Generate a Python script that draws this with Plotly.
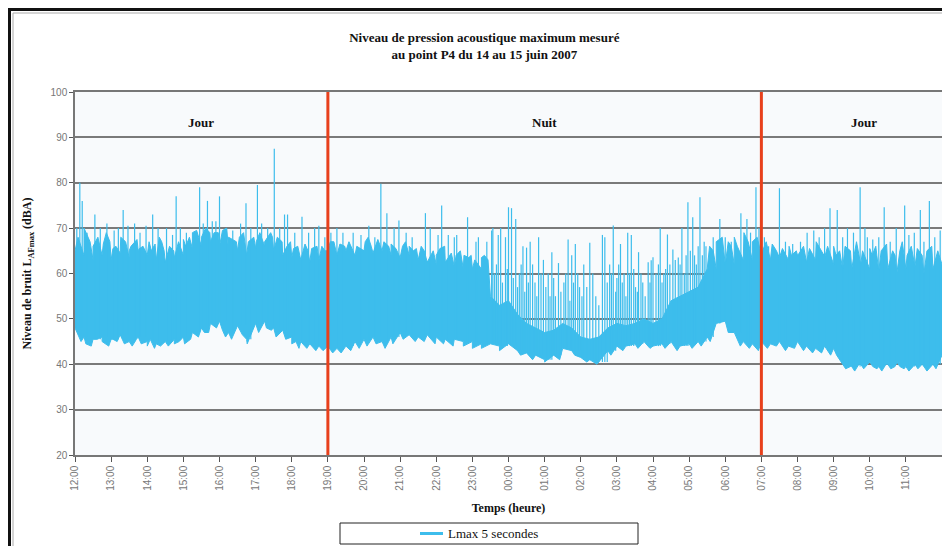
import pandas as pd
import plotly.graph_objects as go

# ---------------- data ----------------
start = "2007-06-14 12:00"
# 15-minute envelope of the Lmax 5 s signal, 12:00 (14 juin) -> 12:00 (15 juin)
band_low = [
    48, 46, 45.5, 46, 45.5, 46.5, 45, 46, 45, 44.5, 45, 45.5, 46, 47, 48, 49,
    49.5, 47, 48.5, 45.5, 49, 49.5, 48, 47.5, 46, 45, 44.5, 44,
    44, 43.5, 44, 45, 45.5, 46, 45, 46, 47, 46.5, 46, 46.5, 46, 45.5, 45.5, 45,
    45, 44.5, 44.5, 44, 44.5, 43, 42.5, 42, 41, 42, 43.5, 43, 41.5, 41, 40.5, 43,
    44, 44, 44.5, 45, 44, 44.5, 45, 44, 44.5, 45, 46, 49, 49.5, 47, 45, 44.5,
    45, 44.5, 45, 44, 45, 44, 43.5, 44, 43.5, 40, 39.5, 40, 40.5, 39.5, 40, 40.5,
    39.5, 40, 39.5, 40, 42,
]
band_high = [
    65, 64, 63, 64, 63, 64.5, 63.5, 65, 64, 63, 62.5, 63.5, 64, 65.5, 66, 67,
    66, 65, 65, 64, 65.5, 66, 65, 64, 63.5, 63, 62.5, 63,
    65, 64, 65, 64, 65, 64.5, 65, 64, 63.5, 64, 63, 62.5, 62, 62.5, 61.5, 61,
    61, 61, 55, 53, 54, 51, 49, 48, 47, 47.5, 49, 48, 46, 45.5, 46, 48,
    49, 48.5, 49, 50, 49, 50, 54, 55, 56, 57, 61, 61, 62, 62, 63, 63,
    64, 63, 63.5, 63, 64, 62.5, 63, 63.5, 62, 61, 61, 62, 61, 60.5, 61, 60,
    61, 61.5, 60, 61, 62,
]
# isolated peaks above the dense band
spike_times = [
    "12:03", "12:08", "12:12", "12:20", "12:33", "12:42", "12:53", "13:05", "13:12", "13:20",
    "13:28", "13:39", "13:48", "13:58", "14:09", "14:18", "14:32", "14:42", "14:48", "14:55",
    "15:05", "15:27", "15:33", "15:40", "15:48", "15:54", "16:00", "16:10", "16:22", "16:35",
    "16:44", "16:52", "17:03", "17:10", "17:20", "17:31", "17:40", "17:48", "17:53", "18:05",
    "18:17", "18:28", "18:38", "18:45", "18:55",
    "19:05", "19:15", "19:25", "19:42", "19:55", "20:08", "20:18", "20:28", "20:38", "20:50",
    "20:58", "21:10", "21:20", "21:42", "21:50", "22:03", "22:09", "22:20", "22:30", "22:34",
    "22:52", "23:06", "23:10", "23:24", "23:32", "23:34", "23:43", "23:47", "23:55", "00:00",
    "00:05", "00:12", "00:18", "00:24", "00:30", "00:36", "00:44", "00:50", "00:58", "01:06",
    "01:12", "01:18", "01:23", "01:32", "01:39", "01:45", "01:51", "01:58", "02:05", "02:15",
    "02:25", "02:36", "02:40", "02:48", "02:54", "03:00", "03:06", "03:12", "03:18", "03:24",
    "03:31", "03:36", "03:43", "03:52", "03:57", "04:00", "04:12", "04:18", "04:24", "04:33",
    "04:42", "04:48", "04:52", "04:58", "05:06", "05:12", "05:18", "05:28", "05:40", "05:51",
    "06:00", "06:10", "06:26", "06:36", "06:42", "06:51", "06:56",
    "07:05", "07:12", "07:30", "07:40", "07:52", "08:05", "08:16", "08:27", "08:36", "08:45",
    "08:54", "09:06", "09:15", "09:23", "09:33", "09:44", "09:52", "09:56", "10:05", "10:15",
    "10:24", "10:34", "10:44", "10:58", "11:05", "11:14", "11:24", "11:30", "11:39", "11:48",
    "11:57",
]
spike_peaks = [
    70, 80, 76, 69, 73, 70, 71, 69.5, 70, 74,
    70.5, 71, 69, 70.5, 73, 70, 70, 68.5, 77, 70,
    69, 79, 71, 76, 71.5, 71.5, 77, 70, 69.5, 71,
    75.5, 70, 79.5, 71, 70, 87.5, 70, 73, 73, 69,
    72.5, 69, 70, 70.5, 68,
    69, 70, 69, 69, 68.5, 70.5, 68, 79.8, 73.3, 70,
    71.7, 69, 68, 73.3, 70, 68.5, 75, 68.5, 68, 68.5,
    72.4, 67, 68, 67, 69.5, 70, 68.5, 70, 68, 74.6,
    74.4, 72, 60, 66, 65.7, 67, 58, 68, 63, 60,
    64.7, 55, 62.3, 58, 67.5, 64, 66.5, 57, 62, 66.8,
    55, 68.5, 68, 62, 70.6, 59, 66.5, 60, 69, 68.5,
    57, 64.7, 58, 62.5, 62.9, 63.6, 70, 60, 68.6, 65.3,
    63.5, 70, 60, 75.7, 72.4, 62, 76.8, 66, 68, 72,
    68, 67, 73.3, 72, 69, 79, 70,
    68, 66, 78.8, 67, 66.5, 67, 69, 69.5, 68, 70,
    74.4, 74, 68, 70, 69, 79, 70, 68, 67.5, 68,
    74.6, 67, 70, 75, 68.5, 69, 74, 67, 76, 68,
    69.5,
]
# smaller peaks that make the upper edge of the band ragged
minor_times = [
    "12:05", "12:15", "12:25", "12:30", "12:38", "12:47", "12:52", "12:58", "13:03", "13:08",
    "13:16", "13:24", "13:30", "13:33", "13:43", "13:47", "13:53", "14:03", "14:07", "14:13",
    "14:20", "14:24", "14:28", "14:37", "14:44", "14:52", "15:00", "15:04", "15:10", "15:15",
    "15:22", "15:30", "15:37", "15:44", "15:51", "15:58", "16:05", "16:12", "16:15", "16:28",
    "16:33", "16:40", "16:48", "16:57", "17:01", "17:07", "17:15", "17:25", "17:28", "17:36",
    "17:44", "17:52", "17:58", "18:03", "18:10", "18:22", "18:27", "18:33", "18:42", "18:50",
    "18:55",
    "19:04", "19:10", "19:20", "19:28", "19:35", "19:40", "19:48", "20:02", "20:07", "20:12",
    "20:23", "20:33", "20:41", "20:45", "20:53", "21:04", "21:09", "21:15", "21:22", "21:27",
    "21:35", "21:40", "21:55", "22:00", "22:06", "22:14", "22:25", "22:33", "22:40", "22:46",
    "22:54", "22:58", "23:04", "23:15", "23:20", "23:26",
    "23:37", "23:40", "23:50", "23:58", "00:08", "00:15", "00:21", "00:27", "00:33",
    "00:40", "00:47", "00:54", "01:02", "01:09", "01:15", "01:27", "01:35", "01:42", "01:48",
    "01:55", "02:02", "02:10", "02:20", "02:30", "02:44", "02:51", "02:58", "03:03", "03:09",
    "03:15", "03:21", "03:28", "03:34", "03:40", "03:47", "03:55", "04:05", "04:09", "04:15",
    "04:21", "04:28", "04:37", "04:45", "04:55", "05:02", "05:09", "05:15", "05:22", "05:25",
    "05:34", "05:40", "05:45", "05:55", "06:05", "06:10", "06:15", "06:20", "06:31", "06:38",
    "06:45", "06:53",
    "07:02", "07:08", "07:18", "07:25", "07:35", "07:46", "07:50", "07:58", "08:03", "08:10",
    "08:20", "08:31", "08:40", "08:44", "08:50", "09:00", "09:04", "09:10", "09:19", "09:28",
    "09:38", "09:48", "10:00", "10:04", "10:10", "10:19", "10:28", "10:38", "10:42", "10:50",
    "10:54", "11:02", "11:09", "11:19", "11:27", "11:35", "11:43", "11:53",
]
minor_peaks = [
    68, 70, 67, 66, 68, 66.5, 69, 67, 65.5, 66,
    68, 67, 65, 66, 67.5, 65.5, 66, 67, 65, 66.5,
    68, 67, 65, 66, 65, 67, 67.5, 66, 68, 69,
    69.5, 68, 70, 69, 69, 69, 69.5, 70, 68, 67,
    68, 69, 67, 68, 67, 69, 67, 69, 68, 68,
    67, 66, 67, 65.5, 66, 66.5, 65, 65.5, 66, 66,
    65,
    67, 67, 66.5, 66, 67, 65.5, 66, 67, 68, 66,
    67.5, 67, 66, 66.5, 65.5, 66, 67, 66, 65, 65.5,
    66, 65, 65, 64, 65.5, 66, 64.5, 64, 65, 64,
    63.5, 64, 63, 63.5, 64, 63,
    60, 62, 58, 61, 59, 57, 62, 56, 58,
    62, 55, 60, 57, 55, 59, 56, 60, 54, 58,
    60, 55, 57, 60, 53, 58, 60, 56, 62, 58,
    55, 60, 61, 56, 60, 55, 58, 60, 62, 58,
    61, 62, 63, 62, 64, 65, 64, 66, 64, 67,
    66, 65, 67, 68, 67, 66, 68, 66, 69, 67,
    67, 68,
    65, 67, 66.5, 65, 65.5, 66, 64, 65, 64.5, 66,
    65.5, 67, 65, 64, 66, 66, 64, 65, 66, 65,
    67, 65, 65.5, 64, 66, 65, 66.5, 65, 64, 65,
    67, 64, 66, 65.5, 64, 65, 66, 65,
]
# dips below the band
dip_times = [
    "12:10", "12:18", "12:27", "12:37", "12:45", "12:56", "13:03", "13:10", "13:22", "13:35",
    "13:42", "13:50", "14:00", "14:05", "14:12", "14:22", "14:35", "14:45", "14:53", "15:02",
    "15:12", "15:25", "15:35", "15:42", "15:55", "16:05", "16:10", "16:20", "16:38", "16:46",
    "16:55", "17:05", "17:18", "17:26", "17:34", "17:50", "18:00", "18:07", "18:12", "18:25",
    "18:33", "18:40", "18:52",
    "19:08", "19:22", "19:38", "19:52", "20:05", "20:20", "20:35", "20:48", "21:05", "21:25",
    "21:40", "21:58", "22:12", "22:28", "22:45", "23:00", "23:15", "23:45", "00:20", "00:40",
    "01:00", "01:25", "01:50", "02:10", "02:27", "02:50", "03:10", "03:35", "03:55", "04:20",
    "04:40", "05:05", "05:20", "05:35", "06:05", "06:25", "06:40", "06:55",
    "07:10", "07:25", "07:40", "07:55", "08:10", "08:25", "08:40", "08:55", "09:05", "09:20",
    "09:28", "09:35", "09:42", "09:50", "09:57", "10:05", "10:12", "10:20", "10:27", "10:35",
    "10:42", "10:50", "10:57", "11:05", "11:12", "11:20", "11:27", "11:35", "11:42", "11:50",
]
dip_values = [
    45, 44.5, 44, 45.5, 45, 44, 45.5, 45, 44.5, 44,
    45.5, 44.5, 44, 45.5, 43.5, 44, 44, 44.5, 45, 44.5,
    45.5, 46, 47, 47, 48, 47.5, 46, 45.5, 46.5, 44.5,
    47.5, 47, 48, 47.5, 46, 45.5, 44.5, 45, 43.5, 43.5,
    44, 43, 43,
    42.5, 42.5, 43, 43.5, 44, 44.5, 43.5, 44.5, 45.5, 45,
    45, 44.5, 44.5, 44, 44, 43.5, 43.5, 43, 42, 41,
    40.5, 41, 42, 40.5, 40, 42, 43, 43.5, 43.5, 43.5,
    43, 43.5, 44, 45, 47, 44, 43.5, 43,
    43.5, 44, 43, 43.5, 43, 42.5, 42.5, 42, 42, 39,
    39.5, 38.5, 40, 39, 40, 39.5, 39, 38.5, 40, 39,
    39.5, 39.5, 39, 38.5, 39.5, 39, 40, 38.5, 39.5, 39,
]
sparse_window = ["2007-06-14 23:30", "2007-06-15 05:30"]
period_labels = ["Jour", "Nuit", "Jour"]
period_label_times = ["2007-06-14 15:30", "2007-06-15 01:00", "2007-06-15 09:50"]
period_limits = ["2007-06-14 19:00", "2007-06-15 07:00"]
y_ticks = [20, 30, 40, 50, 60, 70, 80, 90, 100]

# ---------------- figure ----------------
BLUE = "#3dbdec"
t0 = pd.Timestamp(start)
band_times = list(pd.date_range(t0, periods=len(band_low), freq="15min"))
sp0, sp1 = pd.Timestamp(sparse_window[0]), pd.Timestamp(sparse_window[1])


def to_ts(ts):
    hh = int(ts.split(":")[0])
    day = "2007-06-14" if hh >= 12 else "2007-06-15"
    return pd.Timestamp(f"{day} {ts}")


def bin_of(t):
    return min(int((t - t0) / pd.Timedelta("15min")), len(band_low) - 1)


# ragged band outline: 15-min envelope merged with the small peaks / dips
upper = list(zip(band_times, band_high))
line_peaks = list(zip(map(to_ts, spike_times), spike_peaks))
for ts, v in zip(minor_times, minor_peaks):
    t = to_ts(ts)
    if sp0 <= t <= sp1:
        line_peaks.append((t, v))
    else:
        upper.append((t, v))
upper.sort(key=lambda p: p[0])
lower = sorted(list(zip(band_times, band_low)) +
               list(zip(map(to_ts, dip_times), dip_values)), key=lambda p: p[0])

poly_x = [p[0] for p in upper] + [p[0] for p in reversed(lower)]
poly_y = [p[1] for p in upper] + [p[1] for p in reversed(lower)]

fig = go.Figure()
fig.add_trace(go.Scatter(x=poly_x, y=poly_y, mode="lines", fill="toself",
                         fillcolor=BLUE, line=dict(width=1, color=BLUE),
                         showlegend=False, name="Lmax 5 secondes"))

sx, sy = [], []
for t, pk in line_peaks:
    sx += [t, t, None]
    sy += [band_low[bin_of(t)], pk, None]
fig.add_trace(go.Scatter(x=sx, y=sy, mode="lines", line=dict(width=1.2, color=BLUE),
                         showlegend=False, hoverinfo="skip"))

# period separators
for tl in period_limits:
    fig.add_trace(go.Scatter(x=[tl, tl], y=[20, 100], mode="lines",
                             line=dict(color="#e8401c", width=3), showlegend=False,
                             hoverinfo="skip"))

for lab, tl in zip(period_labels, period_label_times):
    fig.add_annotation(x=tl, y=93.2, text=f"<b>{lab}</b>", showarrow=False,
                       font=dict(family="Liberation Serif", size=13, color="#111"))

PLOT_W = 867.0


# page coords -> paper coords (plot area spans page px 75..942, 92..455)
def px(x):
    return (x - 75) / PLOT_W


def py(y):
    return (455 - y) / 363.0


fig.add_shape(type="line", xref="paper", yref="paper", x0=px(9.5), x1=px(9.5), y0=py(8), y1=py(600),
              line=dict(color="#111", width=3))
fig.add_shape(type="line", xref="paper", yref="paper", x0=px(8), x1=px(1000), y0=py(9.5), y1=py(9.5),
              line=dict(color="#111", width=3))
fig.add_shape(type="line", xref="paper", yref="paper", x0=px(13), x1=px(13), y0=py(13), y1=py(600),
              line=dict(color="#aaa", width=1))
fig.add_shape(type="line", xref="paper", yref="paper", x0=px(13), x1=px(1000), y0=py(13), y1=py(13),
              line=dict(color="#aaa", width=1))

# legend box
fig.add_shape(type="rect", xref="paper", yref="paper", x0=px(340), x1=px(638), y0=py(544), y1=py(523),
              line=dict(color="#222", width=1), fillcolor="white")
fig.add_shape(type="line", xref="paper", yref="paper", x0=px(420), x1=px(443), y0=py(533.5), y1=py(533.5),
              line=dict(color=BLUE, width=3))
fig.add_annotation(xref="paper", yref="paper", x=px(446), y=py(533.5), xanchor="left", yanchor="middle",
                   text="Lmax 5 secondes", showarrow=False,
                   font=dict(family="Liberation Serif", size=13, color="#111"))

# the page has an 8 px body margin: the figure is sized to fit inside the window
fig.update_layout(
    width=934, height=538,
    margin=dict(l=67, r=0, t=84, b=91, autoexpand=False),
    paper_bgcolor="white",
    plot_bgcolor="#f8fafc",
    title=dict(text="<b>Niveau de pression acoustique maximum mesuré<br>au point P4 du 14 au 15 juin 2007</b>",
               x=0.51, xanchor="center", y=0.936, yanchor="middle",
               font=dict(family="Liberation Serif", size=13, color="#111")),
    showlegend=False,
)
fig.update_xaxes(
    type="date", range=[t0, t0 + pd.Timedelta("24h")], automargin=False,
    dtick=3600000, tick0=t0, tickformat="%H:%M", tickangle=-90,
    ticks="outside", ticklen=5, tickcolor="#555",
    tickfont=dict(family="Liberation Sans", size=10, color="#777"),
    showgrid=False, showline=True, linecolor="#777", linewidth=1.5, mirror=True,
    title=dict(text="<b>Temps (heure)</b>", standoff=14,
               font=dict(family="Liberation Serif", size=12, color="#111")),
)
fig.update_yaxes(
    range=[20, 100], tickvals=y_ticks, automargin=False,
    ticks="outside", ticklen=4, tickcolor="#555",
    tickfont=dict(family="Liberation Sans", size=10, color="#777"),
    showgrid=True, gridcolor="#7a7a7a", gridwidth=1.5,
    showline=True, linecolor="#777", linewidth=1.5, mirror=True,
    zeroline=False,
    title=dict(text="<b>Niveau de bruit L<sub>AFmax</sub> (dBA)</b>", standoff=16,
               font=dict(family="Liberation Serif", size=12, color="#111")),
)

fig.write_html("out.html")
